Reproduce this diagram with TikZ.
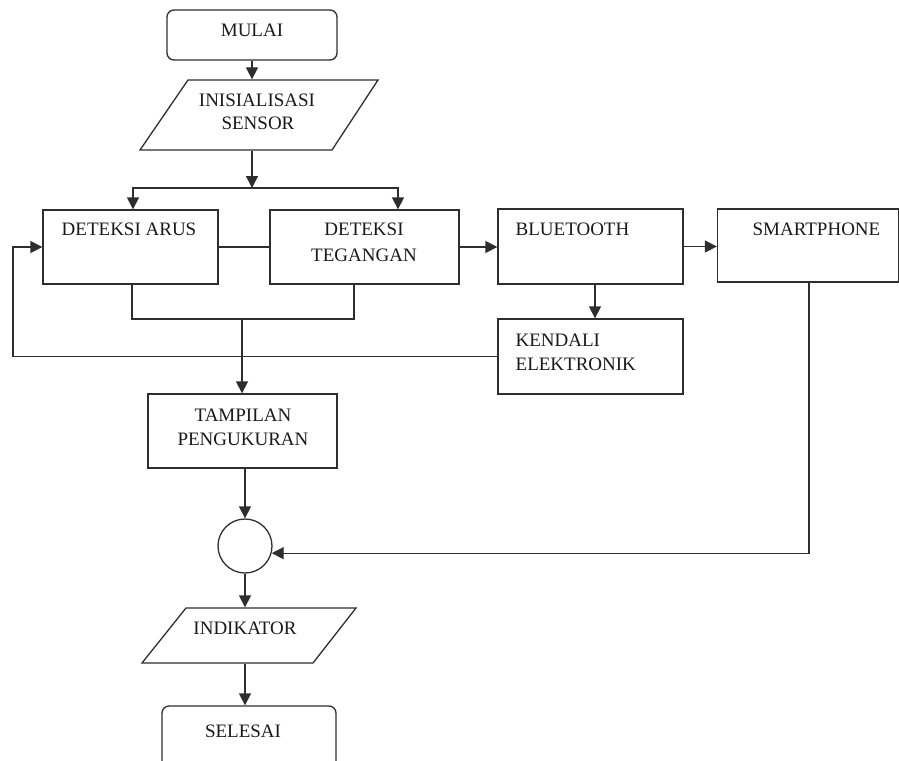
\documentclass[tikz,border=0pt]{standalone}
\usepackage{fontspec}
\setmainfont{Liberation Serif}
\usetikzlibrary{shapes.geometric,arrows.meta,calc}
\begin{document}
\begin{tikzpicture}[x=1pt,y=-1pt,
  line width=1.3pt, draw=black!82,
  box/.style={draw, rectangle, inner sep=0pt},
  term/.style={draw, rectangle, rounded corners=7pt, inner sep=0pt},
  frame/.style={rectangle, inner sep=0pt},
  txt/.style={anchor=base, inner sep=0pt, font=\fontsize{19}{24}\selectfont, text=black!90},
  arr/.style={-{Triangle[length=12pt,width=12pt]}}]
\useasboundingbox (0,0) rectangle (899,760);
% shapes
\node[term, minimum width=170, minimum height=50] (mulai) at (252,35) {};
\node[frame, minimum width=190, minimum height=70] (inis) at (259,115) {};
\draw (140,150) -- (188,80) -- (378,80) -- (332,150) -- cycle;
\node[box, minimum width=175, minimum height=74] (arus) at (130.5,247) {};
\node[box, minimum width=189, minimum height=74] (teg) at (364.5,247) {};
\node[box, minimum width=185, minimum height=75] (blue) at (590.5,246.5) {};
\node[box, minimum width=181, minimum height=73] (smart) at (808,245.5) {};
\node[box, minimum width=185, minimum height=75] (kend) at (590.5,356.5) {};
\node[box, minimum width=189, minimum height=74] (tamp) at (242.5,431) {};
\node[draw, circle, minimum size=54, inner sep=0pt] (circ) at (245,546) {};
\node[frame, minimum width=170, minimum height=55] (indik) at (249,635.5) {};
\draw (142,663) -- (186,608) -- (356,608) -- (313,663) -- cycle;
\node[term, minimum width=174, minimum height=66] (sel) at (249,739) {};
% texts
\node[txt] (tmulai) at (252,37) {MULAI};
\node[txt] (tinis1) at (257,106) {INISIALISASI};
\node[txt] (tinis2) at (258,129) {SENSOR};
\node[txt] (tarus) at (129,235) {DETEKSI ARUS};
\node[txt] (tteg1) at (364,235) {DETEKSI};
\node[txt] (tteg2) at (364,261) {TEGANGAN};
\node[txt, anchor=base west] (tblue) at (515,235) {BLUETOOTH};
\node[txt, anchor=base west] (tsmart) at (752,235) {SMARTPHONE};
\node[txt, anchor=base west] (tkend1) at (515,346) {KENDALI};
\node[txt, anchor=base west] (tkend2) at (515,370) {ELEKTRONIK};
\node[txt] (ttamp1) at (243,421) {TAMPILAN};
\node[txt] (ttamp2) at (243,445) {PENGUKURAN};
\node[txt] (tindik) at (245,634) {INDIKATOR};
\node[txt] (tsel) at (243,737) {SELESAI};
% connectors
\coordinate (split) at (252,188);
\coordinate (merge) at (242,319);
\draw[arr] (mulai.south) -- (mulai.south |- inis.north);
\draw[arr] (split |- inis.south) -- (split);
\draw[arr] (split) -| ([xshift=2.5]arus.north);
\draw[arr] (split) -| ([xshift=33.5]teg.north);
\draw (arus.east) -- (teg.west);
\draw[arr] (teg.east) -- (teg.east -| blue.west);
\draw[arr] (blue.east) -- (blue.east -| smart.west);
\draw[arr] ([xshift=4.5]blue.south) -- ([xshift=4.5]kend.north);
\draw (kend.west) -- (13,356.5) coordinate (fb) ;
\draw[arr] (fb) |- (arus.west);
\draw ([xshift=1.5]arus.south) |- ([xshift=-10.5]teg.south |- merge) -- ([xshift=-10.5]teg.south);
\draw[arr] (merge) -- (merge |- tamp.north);
\draw[arr] ([xshift=2.5]tamp.south) -- (circ.north);
\draw[arr] ([xshift=1]smart.south) |- (circ.-15);
\draw[arr] (circ.south) -- (circ.south |- indik.north);
\draw[arr] (circ.south |- indik.south) -- (circ.south |- sel.north);
\end{tikzpicture}
\end{document}
